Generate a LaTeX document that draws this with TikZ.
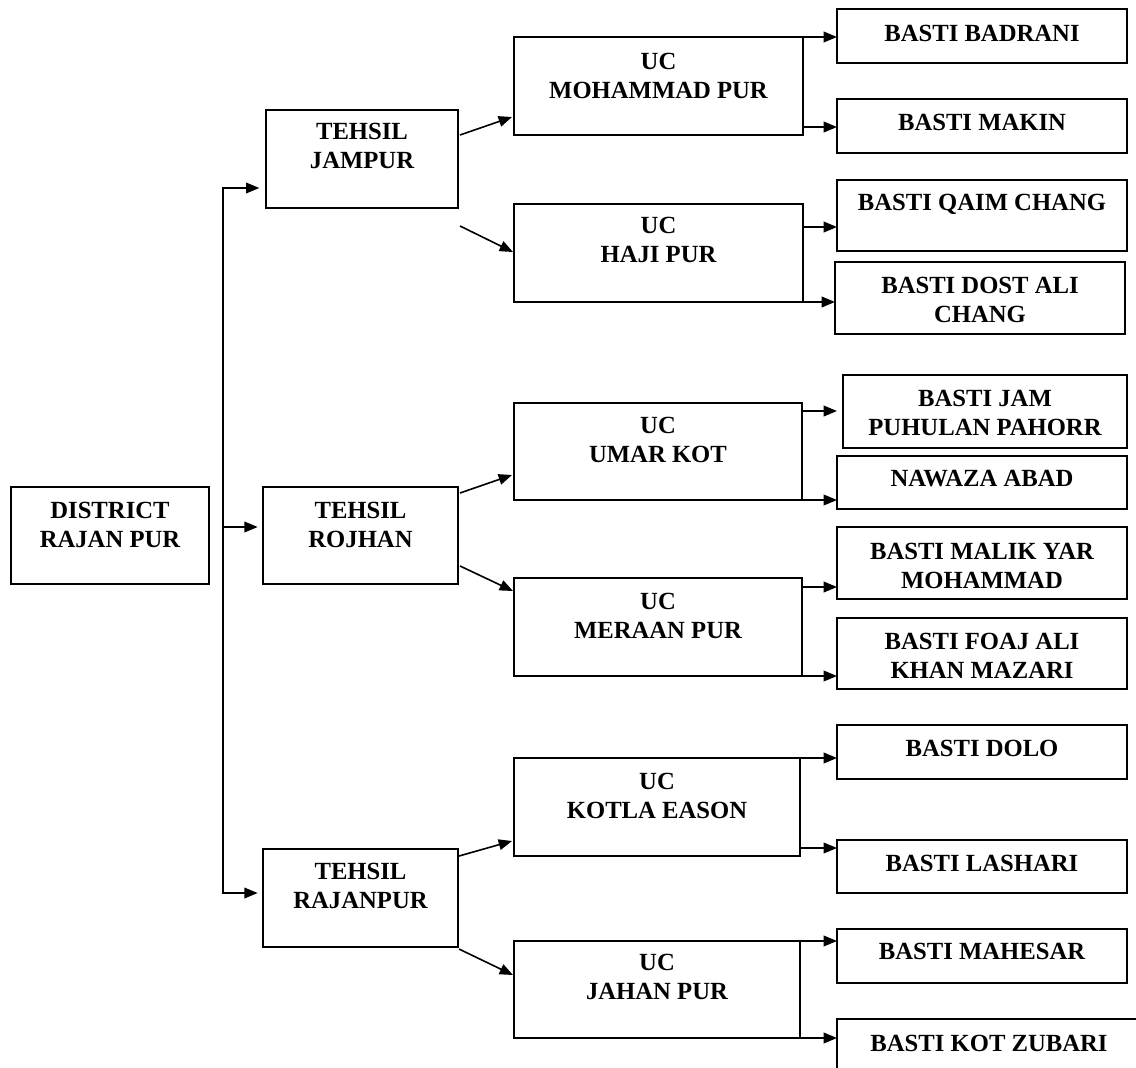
\documentclass[tikz,border=0pt]{standalone}
\usepackage{fontspec}
\setmainfont{Liberation Serif}
\usetikzlibrary{arrows.meta,fit,calc}
\newcommand\mybox[7]{%
  \node[box, fit={(#2,#3)(#4,#5)}] (#1) {};
  \node[txt] (#1t) at ({(#2+#4)/2},#6) {#7};}
\begin{document}
\begin{tikzpicture}[x=0.75pt,y=-0.75pt,
  box/.style={draw, line width=1.2pt, inner sep=0pt, outer sep=0pt},
  txt/.style={font=\bfseries\fontsize{18.5pt}{21.5pt}\selectfont, align=center, anchor=north, inner sep=0pt},
  arr/.style={line width=1.2pt, -{Triangle[length=10pt,width=8pt]}}]
\clip (0,0) rectangle (1136,1068);
\fill[white] (0,0) rectangle (1136,1068);

% district and tehsils
\mybox{d}{11}{487}{209}{584}{502}{DISTRICT\\RAJAN PUR}
\mybox{tj}{266}{110}{458}{208}{123}{TEHSIL\\JAMPUR}
\mybox{tr}{263}{487}{458}{584}{502}{TEHSIL\\ROJHAN}
\mybox{tn}{263}{849}{458}{947}{863}{TEHSIL\\RAJANPUR}

% union councils
\mybox{ucm}{514}{37}{803}{135}{53}{UC\\MOHAMMAD PUR}
\mybox{uch}{514}{204}{803}{302}{217}{UC\\HAJI PUR}
\mybox{ucu}{514}{403}{802}{500}{417}{UC\\UMAR KOT}
\mybox{ucme}{514}{578}{802}{676}{593}{UC\\MERAAN PUR}
\mybox{uck}{514}{758}{800}{856}{773}{UC\\KOTLA EASON}
\mybox{ucj}{514}{941}{800}{1038}{954}{UC\\JAHAN PUR}

% bastis
\mybox{bb}{837}{9}{1127}{63}{25}{BASTI BADRANI}
\mybox{bm}{837}{99}{1127}{153}{114}{BASTI MAKIN}
\mybox{bq}{837}{180}{1127}{251}{194}{BASTI QAIM CHANG}
\mybox{bd}{835}{262}{1125}{334}{277}{BASTI DOST ALI\\CHANG}
\mybox{bj}{843}{375}{1127}{448}{390}{BASTI JAM\\PUHULAN PAHORR}
\mybox{bn}{837}{456}{1127}{509}{470}{NAWAZA ABAD}
\mybox{bmy}{837}{527}{1127}{599}{543}{BASTI MALIK YAR\\MOHAMMAD}
\mybox{bf}{837}{618}{1127}{689}{633}{BASTI FOAJ ALI\\KHAN MAZARI}
\mybox{bdo}{837}{725}{1127}{779}{740}{BASTI DOLO}
\mybox{bl}{837}{840}{1127}{893}{855}{BASTI LASHARI}
\mybox{bma}{837}{929}{1127}{983}{943}{BASTI MAHESAR}
\mybox{bk}{837}{1019}{1141}{1095}{1035}{BASTI KOT ZUBARI}

% trunk
\coordinate (tt) at (223,188);
\coordinate (tm) at (223,527);
\coordinate (tb) at (223,893);
\draw[arr, shorten >=5pt] (tb) -- (tt) -- (tj.west |- tt);
\draw[arr, shorten >=4pt] (tt) -- (tb) -- (tn.west |- tb);
\draw[arr, shorten >=4pt] (tm) -- (tr.west |- tm);

% tehsil to UC
\draw[arr] ($(tj.north east)+(2,25)$) -- ($(ucm.north west)+(-2,80)$);
\draw[arr] ($(tj.south east)+(2,18)$) -- ($(uch.north west)+(-1,48)$);
\draw[arr] ($(tr.north east)+(2,6)$) -- ($(ucu.north west)+(-2,72)$);
\draw[arr] ($(tr.south east)+(2,-18)$) -- ($(ucme.north west)+(-1,13)$);
\draw[arr] ($(tn.north east)+(1,7)$) -- ($(uck.south west)+(-2,-15)$);
\draw[arr] ($(tn.south east)+(1,2)$) -- ($(ucj.north west)+(-1,34)$);

% UC to bastis
\draw[arr] (ucm.north east) -- (bb.west |- ucm.north east);
\draw[arr] ($(ucm.south east)+(0,-8)$) coordinate (p1) -- (bm.west |- p1);
\draw[arr] ($(uch.north east)+(0,23)$) coordinate (p2) -- (bq.west |- p2);
\draw[arr] (uch.south east) -- (bd.west |- uch.south east);
\draw[arr] ($(ucu.north east)+(0,8)$) coordinate (p3) -- ($(bj.west |- p3)+(-6,0)$);
\draw[arr] (ucu.south east) -- (bn.west |- ucu.south east);
\draw[arr] ($(ucme.north east)+(0,9)$) coordinate (p4) -- (bmy.west |- p4);
\draw[arr] (ucme.south east) -- (bf.west |- ucme.south east);
\draw[arr] (uck.north east) -- (bdo.west |- uck.north east);
\draw[arr] ($(uck.south east)+(0,-8)$) coordinate (p5) -- (bl.west |- p5);
\draw[arr] (ucj.north east) -- (bma.west |- ucj.north east);
\draw[arr] (ucj.south east) -- (bk.west |- ucj.south east);
\end{tikzpicture}
\end{document}
